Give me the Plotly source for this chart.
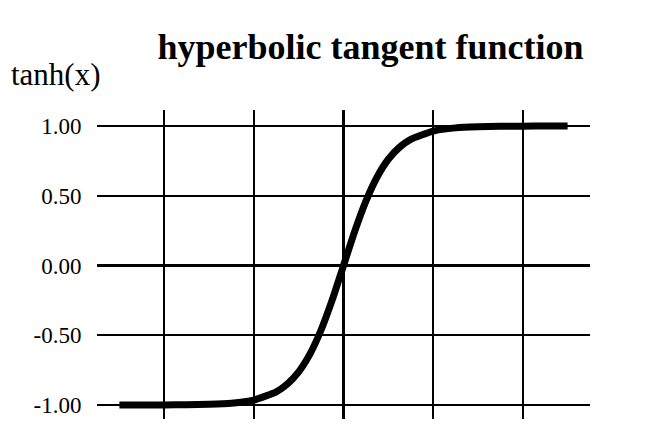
import plotly.graph_objects as go

# Values
x_vals = [-5, -4.5, -4, -3.5, -3, -2.5, -2, -1.5, -1.25, -1, -0.75, -0.5, -0.25, 0,
          0.25, 0.5, 0.75, 1, 1.25, 1.5, 2, 2.5, 3, 3.5, 4, 4.5, 5]
tanh_vals = [-1.000, -1.000, -0.999, -0.998, -0.995, -0.987, -0.964, -0.905, -0.848, -0.762, -0.635, -0.462, -0.245, 0.000,
             0.245, 0.462, 0.635, 0.762, 0.848, 0.905, 0.964, 0.987, 0.995, 0.998, 0.999, 1.000, 1.000]
y_ticks = [-1.0, -0.5, 0.0, 0.5, 1.0]
y_tick_labels = ["-1.00", "-0.50", "0.00", "0.50", "1.00"]
x_grid = [-4, -2, 0, 2, 4]

# page body has an 8px margin; figure laid out in its own coordinates
W, H = 642, 423
L, R, T, B = 89, 60, 102, 12
PW, PH = W - L - R, H - T - B

fig = go.Figure()
fig.add_trace(go.Scatter(x=x_vals, y=tanh_vals, mode="lines",
                         line=dict(color="black", width=7, shape="spline", smoothing=0.5),
                         hoverinfo="skip", showlegend=False))

serif = "Liberation Serif, Times New Roman, serif"
fig.update_layout(
    width=W, height=H,
    margin=dict(l=L, r=R, t=T, b=B, autoexpand=False),
    paper_bgcolor="white", plot_bgcolor="white",
    title=dict(text="<b>hyperbolic tangent function</b>", x=362.5 / W, xanchor="center",
               y=1 - 38 / H, yanchor="middle",
               font=dict(family=serif, size=36, color="black")),
    xaxis=dict(range=[-5.5, 5.5], tickvals=x_grid, showticklabels=False,
               showgrid=True, gridcolor="black", gridwidth=1.6,
               zeroline=True, zerolinecolor="black", zerolinewidth=3,
               showline=False, ticks=""),
    yaxis=dict(range=[-1.1, 1.115], tickvals=y_ticks, ticktext=y_tick_labels,
               showgrid=True, gridcolor="black", gridwidth=1.6,
               zeroline=True, zerolinecolor="black", zerolinewidth=3,
               showline=False, ticks="outside", ticklen=10, tickcolor="rgba(0,0,0,0)",
               tickfont=dict(family=serif, size=23, color="black")),
    annotations=[dict(text="tanh(x)", xref="paper", yref="paper",
                      x=(1 - L) / PW, y=1 + (T - 66) / PH,
                      xanchor="left", yanchor="middle", showarrow=False,
                      font=dict(family=serif, size=31, color="black"))],
)

fig.write_html("out.html")
